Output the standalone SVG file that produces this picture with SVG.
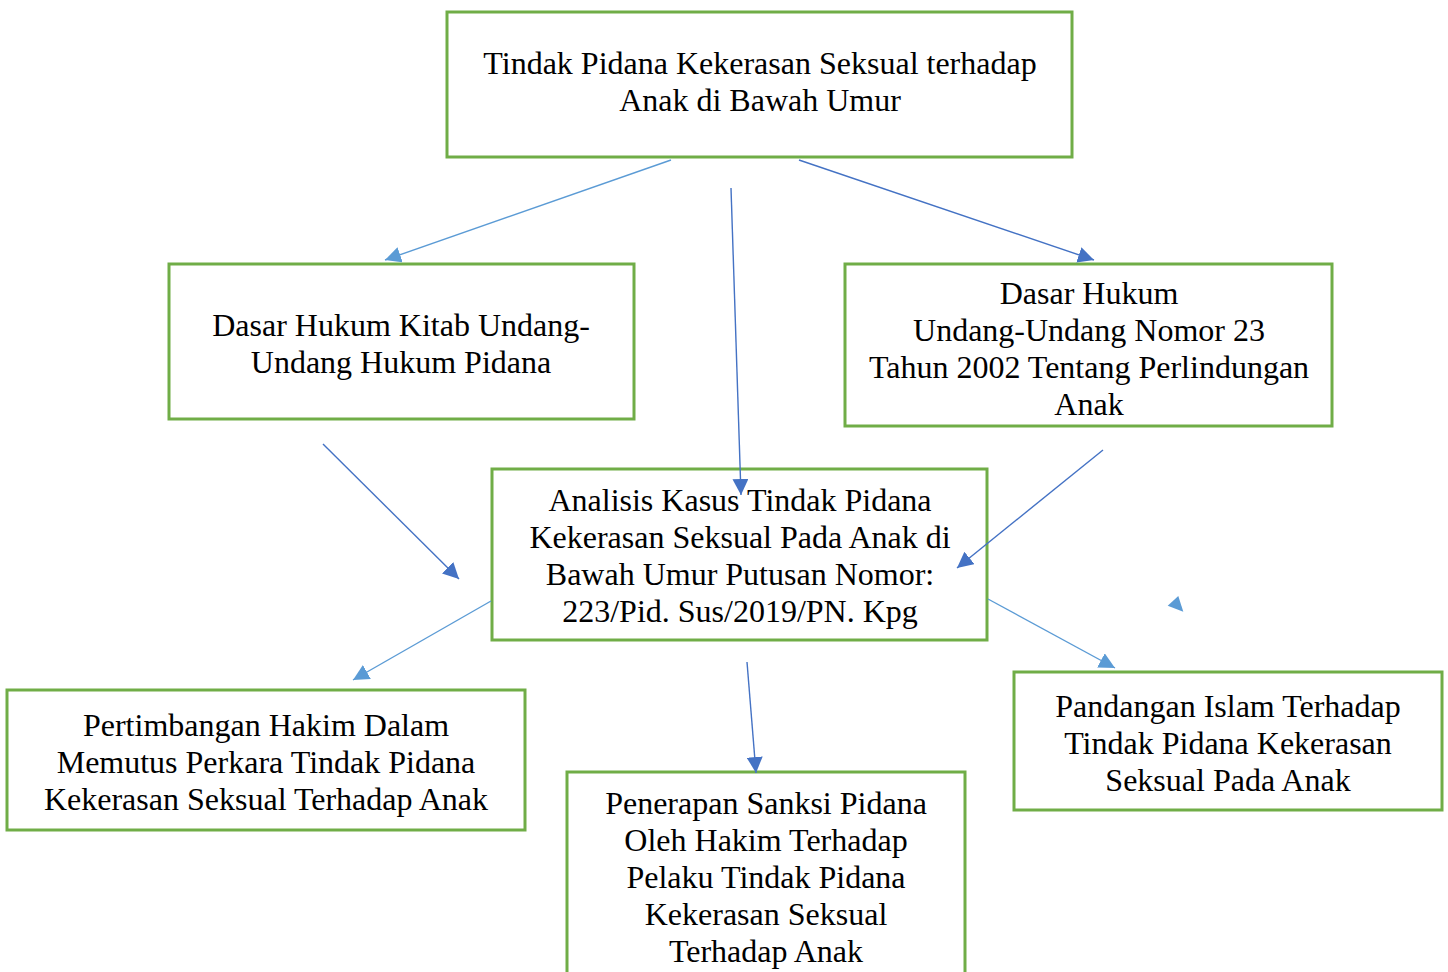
<svg xmlns="http://www.w3.org/2000/svg" width="1448" height="972" viewBox="0 0 1448 972">
<style>
.box{fill:#fff;stroke:#70AD47;stroke-width:3}
.t{font-family:"Liberation Serif","Times New Roman",serif;font-size:32px;fill:#000;text-anchor:middle}
.dk{stroke:#4472C4;stroke-width:1.4;fill:none}
.lt{stroke:#5B9BD5;stroke-width:1.4;fill:none}
</style>
<defs>
<marker id="ad" markerUnits="userSpaceOnUse" markerWidth="18" markerHeight="16" refX="16" refY="8" orient="auto"><path d="M0,0 L16,8 L0,16 Z" fill="#4472C4"/></marker>
<marker id="al" markerUnits="userSpaceOnUse" markerWidth="18" markerHeight="16" refX="16" refY="8" orient="auto"><path d="M0,0 L16,8 L0,16 Z" fill="#5B9BD5"/></marker>
</defs>
<rect width="1448" height="972" fill="#fff"/>
<g id="n-top"><rect class="box" x="447" y="12" width="625" height="145"/>
<text class="t" x="760" y="74">Tindak Pidana Kekerasan Seksual terhadap</text>
<text class="t" x="760" y="111">Anak di Bawah Umur</text></g>
<g id="n-kuhp"><rect class="box" x="169" y="264" width="465" height="155"/>
<text class="t" x="401" y="336">Dasar Hukum Kitab Undang-</text>
<text class="t" x="401" y="373">Undang Hukum Pidana</text></g>
<g id="n-uu"><rect class="box" x="845" y="264" width="487" height="162"/>
<text class="t" x="1089" y="304">Dasar Hukum</text>
<text class="t" x="1089" y="341">Undang-Undang Nomor 23</text>
<text class="t" x="1089" y="378">Tahun 2002 Tentang Perlindungan</text>
<text class="t" x="1089" y="415">Anak</text></g>
<g id="n-analisis"><rect class="box" x="492" y="469" width="495" height="171"/>
<text class="t" x="740" y="511">Analisis Kasus Tindak Pidana</text>
<text class="t" x="740" y="548">Kekerasan Seksual Pada Anak di</text>
<text class="t" x="740" y="585">Bawah Umur Putusan Nomor:</text>
<text class="t" x="740" y="622">223/Pid. Sus/2019/PN. Kpg</text></g>
<g id="n-hakim"><rect class="box" x="7" y="690" width="518" height="140"/>
<text class="t" x="266" y="736">Pertimbangan Hakim Dalam</text>
<text class="t" x="266" y="773">Memutus Perkara Tindak Pidana</text>
<text class="t" x="266" y="810">Kekerasan Seksual Terhadap Anak</text></g>
<g id="n-sanksi"><rect class="box" x="567" y="772" width="398" height="210"/>
<text class="t" x="766" y="814">Penerapan Sanksi Pidana</text>
<text class="t" x="766" y="851">Oleh Hakim Terhadap</text>
<text class="t" x="766" y="888">Pelaku Tindak Pidana</text>
<text class="t" x="766" y="925">Kekerasan Seksual</text>
<text class="t" x="766" y="962">Terhadap Anak</text></g>
<g id="n-islam"><rect class="box" x="1014" y="672" width="428" height="138"/>
<text class="t" x="1228" y="717">Pandangan Islam Terhadap</text>
<text class="t" x="1228" y="754">Tindak Pidana Kekerasan</text>
<text class="t" x="1228" y="791">Seksual Pada Anak</text></g>
<g id="connectors">
<line class="lt" x1="671" y1="160" x2="385" y2="260" marker-end="url(#al)"/>
<line class="dk" x1="799" y1="160" x2="1094" y2="260" marker-end="url(#ad)"/>
<line class="dk" x1="731" y1="188" x2="741" y2="495" marker-end="url(#ad)"/>
<line class="dk" x1="323" y1="444" x2="459" y2="579" marker-end="url(#ad)"/>
<line class="dk" x1="1103" y1="450" x2="957" y2="568" marker-end="url(#ad)"/>
<line class="lt" x1="491" y1="601" x2="353" y2="680" marker-end="url(#al)"/>
<line class="lt" x1="988" y1="599" x2="1115" y2="668" marker-end="url(#al)"/>
<line class="dk" x1="747" y1="662" x2="756" y2="773" marker-end="url(#ad)"/>
<polygon points="1167.7,605.7 1178.3,596 1183.3,611.7" fill="#5B9BD5"/>
</g>
</svg>
